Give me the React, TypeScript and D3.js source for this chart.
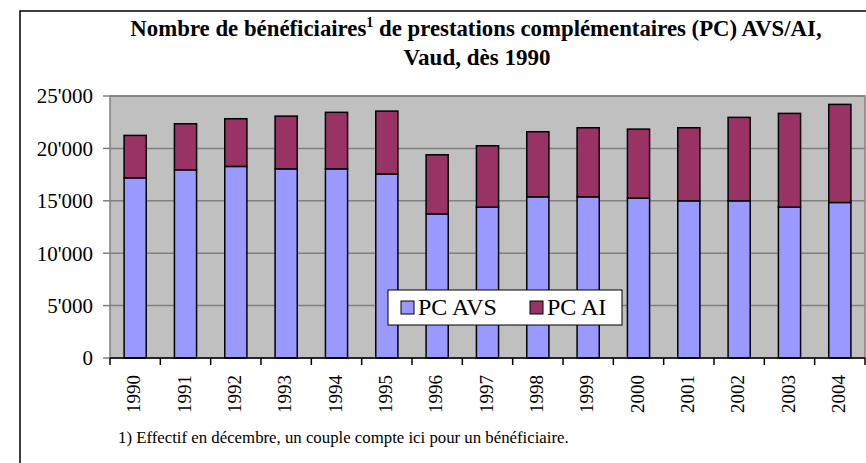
import React from 'react';
import * as d3 from 'd3';

const YEARS = ['1990', '1991', '1992', '1993', '1994', '1995', '1996', '1997', '1998', '1999', '2000', '2001', '2002', '2003', '2004'];
const PC_AVS = [17190, 17960, 18280, 18050, 18050, 17550, 13750, 14390, 15380, 15380, 15250, 15000, 15000, 14390, 14840];
const PC_AI = [4050, 4390, 4550, 5030, 5390, 6010, 5640, 5860, 6210, 6590, 6590, 6970, 7960, 8950, 9360];
const Y_TICKS = [0, 5000, 10000, 15000, 20000, 25000];

const SERIES = [
  { key: 'avs', label: 'PC AVS', color: '#9999FF' },
  { key: 'ai', label: 'PC AI', color: '#993366' },
];

const W = 866, H = 463;
const m = { l: 110, r: 1, t: 96, b: 105 };
const FONT = "'Liberation Serif', 'Times New Roman', serif";

// thousands separator as in the original: 25'000
const fmt = (v: number) => (v === 0 ? '0' : d3.format(',')(v).replace(/,/g, "'"));

export default function App() {
  const rows = YEARS.map((y, i) => ({ year: y, avs: PC_AVS[i], ai: PC_AI[i] }));
  const stacked = d3.stack<any>().keys(SERIES.map(s => s.key))(rows);

  const x = d3.scaleBand().domain(YEARS).range([m.l, W - m.r]).paddingInner(0.56).paddingOuter(0.28);
  const y = d3.scaleLinear().domain([0, 25000]).range([H - m.b, m.t]);
  const step = x.step();
  const x0 = m.l, x1 = W - m.r;
  const y0 = y(0), yTop = y(25000);

  return (
    <svg width={W} height={H} style={{ position: 'absolute', left: 0, top: 0, background: '#fff' }} fontFamily={FONT}>
      {/* outer frame */}
      <rect x={20} y={11} width={W + 20} height={H + 20} fill="#fff" stroke="#000" strokeWidth={1.5} />

      {/* title */}
      <text x={476} y={36} textAnchor="middle" fontSize={22.8} fontWeight="bold">
        Nombre de bénéficiaires<tspan fontSize={14} dy={-9}>1</tspan>
        <tspan dy={9}> de prestations complémentaires (PC) AVS/AI,</tspan>
      </text>
      <text x={477} y={65} textAnchor="middle" fontSize={23} fontWeight="bold">Vaud, dès 1990</text>

      {/* plot area */}
      <rect x={x0} y={yTop} width={x1 - x0} height={y0 - yTop} fill="#C0C0C0" stroke="#808080" strokeWidth={1.5} />
      {Y_TICKS.map(t => (
        <g key={t}>
          {t > 0 && <line x1={x0} x2={x1} y1={y(t)} y2={y(t)} stroke="#808080" strokeWidth={1.5} />}
          <line x1={x0 - 7} x2={x0} y1={y(t)} y2={y(t)} stroke="#808080" strokeWidth={1.5} />
          <text x={93} y={y(t)} dy="0.35em" textAnchor="end" fontSize={21}>{fmt(t)}</text>
        </g>
      ))}

      {/* bars */}
      {stacked.map((layer, si) => (
        <g key={layer.key}>
          {layer.map((d, i) => (
            <rect key={i} x={x(YEARS[i])} width={x.bandwidth()} y={y(d[1])} height={y(d[0]) - y(d[1])}
              fill={SERIES[si].color} stroke="#000" strokeWidth={1.5} />
          ))}
        </g>
      ))}

      {/* x axis */}
      <line x1={x0} x2={x1} y1={y0} y2={y0} stroke="#000" strokeWidth={1.5} />
      {d3.range(YEARS.length + 1).map(i => (
        <line key={i} x1={x0 + i * step} x2={x0 + i * step} y1={y0} y2={y0 + 7} stroke="#000" strokeWidth={1.5} />
      ))}
      {YEARS.map(yr => (
        <text key={yr} transform={`translate(${(x(yr) as number) + x.bandwidth() / 2 + 5},375) rotate(-90)`}
          textAnchor="end" fontSize={19}>{yr}</text>
      ))}

      {/* legend */}
      <rect x={388} y={290} width={234} height={35} fill="#fff" stroke="#000" strokeWidth={1} />
      {SERIES.map((s, i) => {
        const lx = i === 0 ? 401 : 530;
        return (
          <g key={s.key}>
            <rect x={lx} y={301} width={13} height={13} fill={s.color} stroke="#000" strokeWidth={1} />
            <text x={lx + 17} y={315} fontSize={24}>{s.label}</text>
          </g>
        );
      })}

      {/* footnote */}
      <text x={118} y={443} fontSize={16.8}>1) Effectif en décembre, un couple compte ici pour un bénéficiaire.</text>
    </svg>
  );
}
